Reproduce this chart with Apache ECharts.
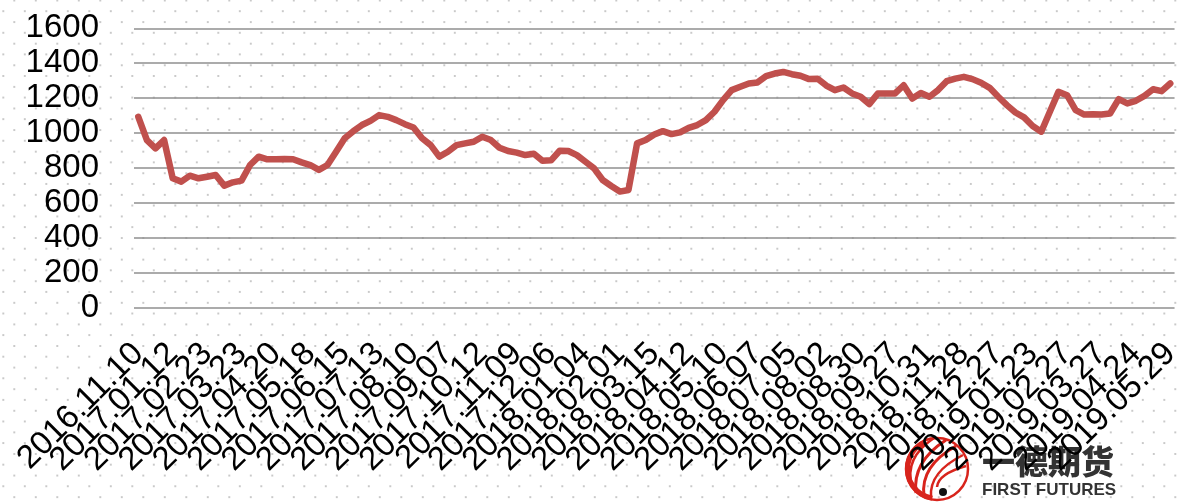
<!DOCTYPE html>
<html>
<head>
<meta charset="utf-8">
<script src="https://cdn.jsdelivr.net/npm/echarts@6/dist/echarts.min.js"></script>
<style>
  html, body { margin: 0; padding: 0; background: #fff; }
  #chart {
    width: 1184px; height: 504px;
    background-color: #fff;
    background-image:
      radial-gradient(circle, #c4c4c4 0, #cbcbcb 0.9px, rgba(255,255,255,0) 1.5px),
      radial-gradient(circle, #c4c4c4 0, #cbcbcb 0.9px, rgba(255,255,255,0) 1.5px);
    background-size: 21.5px 21.6px, 21.5px 21.6px;
    background-position: 3.55px -10.3px, -7.45px 0.4px;
  }
</style>
</head>
<body>
<div id="chart"></div>
<script>
// Tick dates shown on the category axis (one every fourth weekly sample)
const TICK_LABELS = [
  '2016.11.10', '2017.01.12', '2017.02.23', '2017.03.23', '2017.04.20', '2017.05.18',
  '2017.06.15', '2017.07.13', '2017.08.10', '2017.09.07', '2017.10.12', '2017.11.09',
  '2017.12.06', '2018.01.04', '2018.02.01', '2018.03.15', '2018.04.12', '2018.05.10',
  '2018.06.07', '2018.07.05', '2018.08.02', '2018.08.30', '2018.09.27', '2018.10.31',
  '2018.11.28', '2018.12.27', '2019.01.23', '2019.02.27', '2019.03.27', '2019.04.24',
  '2019.05.29'
];
const SAMPLES_PER_TICK = 4;

// Weekly price series
const PRICE = [
  1093, 960, 912, 960, 741, 722, 756, 741, 750, 760,
  699, 718, 728, 817, 865, 850, 850, 851, 850, 832,
  817, 789, 817, 893, 970, 1011, 1046, 1070, 1103, 1093,
  1074, 1051, 1032, 970, 931, 865, 893, 931, 941, 950,
  979, 960, 916, 897, 888, 874, 882, 842, 844, 899,
  897, 874, 836, 798, 731, 697, 665, 674, 941, 960,
  992, 1011, 994, 1004, 1030, 1046, 1074, 1122, 1189, 1246,
  1265, 1284, 1290, 1326, 1341, 1350, 1337, 1328, 1309, 1311,
  1272, 1246, 1261, 1227, 1208, 1166, 1227, 1227, 1227, 1274,
  1198, 1230, 1208, 1246, 1297, 1312, 1322, 1309, 1288, 1259,
  1208, 1160, 1118, 1090, 1040, 1008, 1122, 1236, 1217, 1131,
  1106, 1108, 1106, 1112, 1194, 1170, 1185, 1213, 1251, 1240,
  1284
];

const Y_MIN = 0, Y_MAX = 1600, Y_STEP = 200;

// One category per sample; only every fourth one carries a date label
const categories = PRICE.map((_, i) =>
  i % SAMPLES_PER_TICK === 0 ? (TICK_LABELS[i / SAMPLES_PER_TICK] || '') : '');

const chart = echarts.init(document.getElementById('chart'), null, { renderer: 'canvas' });

const LOGO_RED = '#d8241c';

chart.setOption({
  backgroundColor: 'transparent',
  animation: false,
  grid: { left: 134, right: -1, top: 28.3, bottom: 196.3, containLabel: false },
  xAxis: {
    type: 'category',
    data: categories,
    boundaryGap: true,
    z: 5,
    axisLine: { show: false },
    axisTick: { show: false },
    splitLine: { show: false },
    axisLabel: {
      interval: 0,
      showMinLabel: true,
      showMaxLabel: true,
      hideOverlap: false,
      rotate: 45,
      margin: 41,
      color: '#000',
      fontFamily: 'Liberation Sans',
      fontSize: 33
    }
  },
  yAxis: {
    type: 'value',
    min: Y_MIN,
    max: Y_MAX,
    interval: Y_STEP,
    axisLine: { show: false },
    axisTick: { show: false },
    axisLabel: {
      margin: 35,
      color: '#000',
      fontFamily: 'Liberation Sans',
      fontSize: 33,
      formatter: v => String(v)
    },
    splitLine: { lineStyle: { color: '#8f8f8f', width: 1.6 } }
  },
  series: [{
    type: 'line',
    data: PRICE,
    showSymbol: false,
    smooth: false,
    z: 3,
    lineStyle: { color: '#c0504d', width: 6.5, cap: 'round', join: 'round' }
  }],
  graphic: [
    // company emblem
    { type: 'circle', z: 0, shape: { cx: 937, cy: 469, r: 31 },
      style: { fill: 'none', stroke: LOGO_RED, lineWidth: 2.5 } },
    { type: 'arc', z: 0, shape: { cx: 937, cy: 469, r: 29.5, startAngle: Math.PI * 0.55, endAngle: Math.PI * 1.35 },
      style: { fill: 'none', stroke: LOGO_RED, lineWidth: 5 } },
    { type: 'bezierCurve', z: 0, shape: { x1: 916, y1: 493, cpx1: 912, cpy1: 462, x2: 946, y2: 440 },
      style: { fill: 'none', stroke: LOGO_RED, lineWidth: 3 } },
    { type: 'bezierCurve', z: 0, shape: { x1: 924, y1: 496, cpx1: 920, cpy1: 466, x2: 956, y2: 446 },
      style: { fill: 'none', stroke: LOGO_RED, lineWidth: 3 } },
    { type: 'bezierCurve', z: 0, shape: { x1: 931, y1: 497, cpx1: 929, cpy1: 472, x2: 963, y2: 455 },
      style: { fill: 'none', stroke: LOGO_RED, lineWidth: 2.5 } },
    { type: 'bezierCurve', z: 0, shape: { x1: 937, y1: 487, cpx1: 938, cpy1: 474, x2: 966, y2: 466 },
      style: { fill: 'none', stroke: LOGO_RED, lineWidth: 2.5 } },
    { type: 'bezierCurve', z: 0, shape: { x1: 912, y1: 486, cpx1: 904, cpy1: 458, x2: 934, y2: 438 },
      style: { fill: 'none', stroke: LOGO_RED, lineWidth: 2.5 } },
    { type: 'circle', z: 0, shape: { cx: 943, cy: 492, r: 4 }, style: { fill: '#111' } },
    // company name
    { type: 'text', z: 0, x: 982, y: 461,
      style: { text: '一德期货', fill: '#333', font: '900 33px "Noto Sans CJK SC"',
               verticalAlign: 'middle', align: 'left' } },
    { type: 'text', z: 0, x: 982, y: 490,
      style: { text: 'FIRST FUTURES', fill: '#333', font: 'bold 17px "Liberation Sans"',
               verticalAlign: 'middle', align: 'left' } }
  ]
});
</script>
</body>
</html>
